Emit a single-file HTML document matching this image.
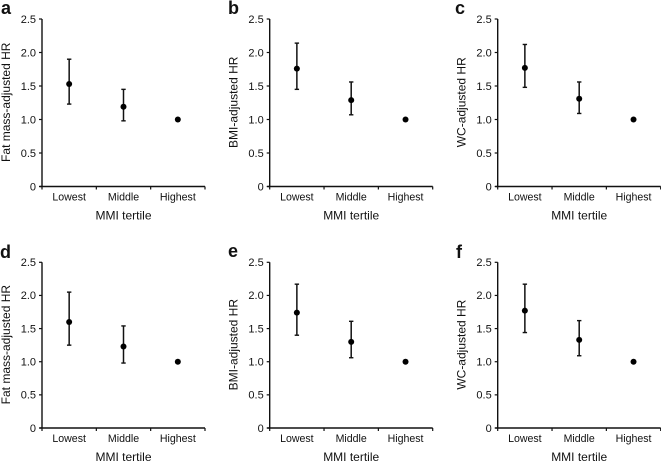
<!DOCTYPE html>
<html>
<head>
<meta charset="utf-8">
<style>
html,body{margin:0;padding:0;background:#fff;width:661px;height:462px;overflow:hidden}
svg{display:block}
text{font-family:"Liberation Sans",Arial,sans-serif;fill:#111}
</style>
</head>
<body>
<svg id="chart" width="661" height="462" viewBox="0 0 661 462" xmlns="http://www.w3.org/2000/svg"></svg>
<script>
const panelLetters = ['a', 'b', 'c', 'd', 'e', 'f'];
const yTitles = ['Fat mass-adjusted HR', 'BMI-adjusted HR', 'WC-adjusted HR', 'Fat mass-adjusted HR', 'BMI-adjusted HR', 'WC-adjusted HR'];
const categories = ['Lowest', 'Middle', 'Highest'];
const yTicks = [0, 0.5, 1.0, 1.5, 2.0, 2.5];
const yTickLabels = ['0', '0.5', '1.0', '1.5', '2.0', '2.5'];
const xTitle = 'MMI tertile';
const hrA = [1.53, 1.19, 1.0];
const lowerA = [1.23, 0.98, null];
const upperA = [1.90, 1.45, null];
const hrB = [1.76, 1.29, 1.0];
const lowerB = [1.45, 1.07, null];
const upperB = [2.14, 1.56, null];
const hrC = [1.77, 1.31, 1.0];
const lowerC = [1.48, 1.09, null];
const upperC = [2.12, 1.56, null];
const hrD = [1.60, 1.23, 1.0];
const lowerD = [1.25, 0.98, null];
const upperD = [2.05, 1.54, null];
const hrE = [1.74, 1.30, 1.0];
const lowerE = [1.40, 1.06, null];
const upperE = [2.17, 1.61, null];
const hrF = [1.77, 1.33, 1.0];
const lowerF = [1.44, 1.09, null];
const upperF = [2.17, 1.62, null];
const hrSeries = [hrA, hrB, hrC, hrD, hrE, hrF];
const lowerSeries = [lowerA, lowerB, lowerC, lowerD, lowerE, lowerF];
const upperSeries = [upperA, upperB, upperC, upperD, upperE, upperF];
const yMax = 2.5;

const svg = document.getElementById('chart');
const NS = 'http://www.w3.org/2000/svg';
const columnLeft = [42, 269.7, 497.7];
const rowTop = [19, 262.3];
const rowBottom = [186.5, 428];
const plotWidth = 163;
const letterX = [1, 228, 455, 0, 228, 456];
const letterY = [14, 14, 14, 258, 257, 258];

function make(parent, tag, props, content) {
  const el = document.createElementNS(NS, tag);
  for (const k in props) el.setAttribute(k, props[k]);
  if (content !== undefined) el.textContent = content;
  parent.appendChild(el);
  return el;
}
function line(parent, x1, y1, x2, y2, w, color) {
  return make(parent, 'line', {x1: x1, y1: y1, x2: x2, y2: y2, stroke: color || '#111', 'stroke-width': w});
}

panelLetters.forEach(function (letter, p) {
  const col = p % 3;
  const row = Math.floor(p / 3);
  const left = columnLeft[col];
  const top = rowTop[row];
  const bottom = rowBottom[row];
  const xScale = function (i) { return left + plotWidth * (i + 0.5) / categories.length; };
  const yScale = function (v) { return bottom - (bottom - top) * v / yMax; };

  const g = make(svg, 'g', {});
  
  

  const label = make(g, 'text', {x: letterX[p], y: letterY[p], 'font-size': 18, 'font-weight': 'bold', fill: '#000'}, letter);
  
  

  const yAxis = line(g, left, top, left, bottom + 0.5, 1.4);
  
  
  const xAxis = line(g, left - 2.5, bottom, left + plotWidth, bottom, 1.4);
  
  

  yTicks.forEach(function (v, i) {
    const y = yScale(v);
    const tick = line(g, left - 3, y, left, y, 1.2);
    
    
    const tl = make(g, 'text', {x: left - 6, y: y + 3.8, 'font-size': 11, 'text-anchor': 'end'}, yTickLabels[i]);
    
    
  });

  for (let i = 0; i <= categories.length; i++) {
    const x = left + plotWidth * i / categories.length;
    const tick = line(g, x, bottom, x, bottom + 3, 1.2);
    
    
  }

  categories.forEach(function (c, i) {
    const cl = make(g, 'text', {x: xScale(i), y: bottom + 14, 'font-size': 10.6, 'text-anchor': 'middle'}, c);
    
    
  });

  const xt = make(g, 'text', {x: left + 81.5, y: bottom + 33.2, 'font-size': 12, 'text-anchor': 'middle'}, xTitle);
  
  

  const titleX = left - 32;
  const titleY = (top + bottom) / 2 - 0.5;
  const yt = make(g, 'text', {x: titleX, y: titleY, 'font-size': 12, 'text-anchor': 'middle', transform: 'rotate(-90 ' + titleX + ' ' + titleY + ')'}, yTitles[p]);
  
  

  hrSeries[p].forEach(function (v, i) {
    const x = xScale(i);
    const lo = lowerSeries[p][i];
    const hi = upperSeries[p][i];
    if (lo !== null && hi !== null) {
      const bar = make(g, 'g', {});
      
      
      line(bar, x, yScale(hi), x, yScale(lo), 1.5);
      line(bar, x - 2.2, yScale(hi), x + 2.2, yScale(hi), 1.4);
      line(bar, x - 2.2, yScale(lo), x + 2.2, yScale(lo), 1.4);
    }
    const dot = make(g, 'circle', {cx: x, cy: yScale(v), r: 3, fill: '#000'});
    
    
  });
});
</script>
</body>
</html>
